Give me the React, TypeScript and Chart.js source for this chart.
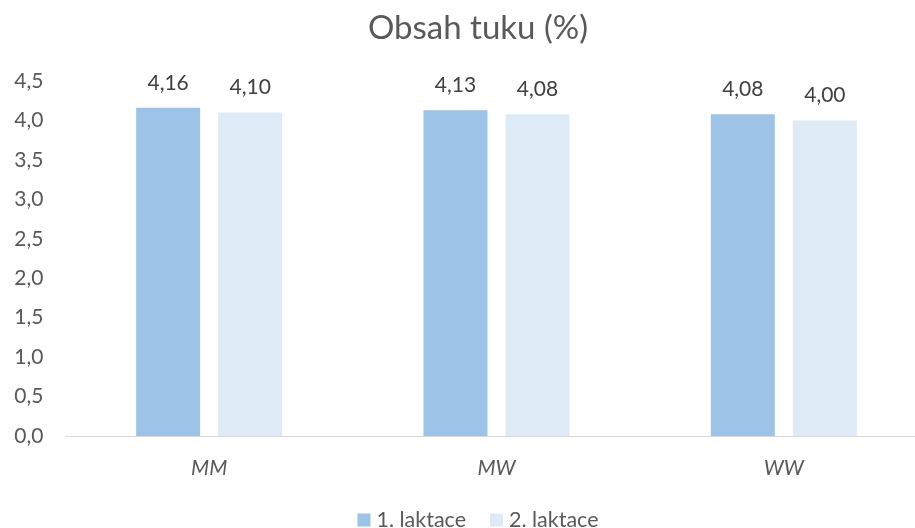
import React, { useEffect, useRef } from "react";
import { Chart, registerables } from "chart.js";

Chart.register(...registerables);

const categories = ["MM", "MW", "WW"];
const series1Label = "1. laktace";
const series2Label = "2. laktace";
const series1 = [4.16, 4.13, 4.08];
const series2 = [4.1, 4.08, 4.0];
const titleText = "Obsah tuku (%)";

const FONT = "Lato, 'Open Sans', sans-serif";
const TEXT = "#595959";

const fmt = (v: number, d: number) => v.toFixed(d).replace(".", ",");

const dataLabels = {
  id: "dataLabels",
  afterDatasetsDraw(chart: any) {
    const ctx = chart.ctx;
    ctx.save();
    ctx.font = `21px ${FONT}`;
    ctx.fillStyle = "#404040";
    ctx.textAlign = "center";
    ctx.textBaseline = "middle";
    chart.data.datasets.forEach((ds: any, i: number) => {
      const meta = chart.getDatasetMeta(i);
      meta.data.forEach((bar: any, j: number) => {
        ctx.fillText(fmt(ds.data[j], 2), bar.x, bar.y - 25);
      });
    });
    ctx.restore();
  },
};

const titleAndLegend = {
  id: "titleAndLegend",
  afterDraw(chart: any) {
    const ctx = chart.ctx;
    ctx.save();
    // title
    ctx.font = `33px ${FONT}`;
    ctx.fillStyle = TEXT;
    ctx.textAlign = "center";
    ctx.textBaseline = "middle";
    ctx.fillText(titleText, chart.width / 2, 28);
    // legend
    ctx.font = `21.5px ${FONT}`;
    ctx.textAlign = "left";
    const box = 13;
    const gap = 6;
    const itemGap = 24;
    const items = chart.data.datasets.map((ds: any) => ({
      label: ds.label,
      color: ds.backgroundColor,
      w: box + gap + ctx.measureText(ds.label).width,
    }));
    const total = items.reduce((a: number, it: any) => a + it.w, 0) + itemGap * (items.length - 1);
    let x = chart.width / 2 - total / 2;
    const y = 520;
    items.forEach((it: any) => {
      ctx.fillStyle = it.color;
      ctx.fillRect(x, y - box / 2, box, box);
      ctx.fillStyle = TEXT;
      ctx.fillText(it.label, x + box + gap, y);
      x += it.w + itemGap;
    });
    ctx.restore();
  },
};

export default function App() {
  const ref = useRef<HTMLCanvasElement>(null);
  useEffect(() => {
    document.body.style.margin = "0";
    const chart = new Chart(ref.current!, {
      type: "bar",
      data: {
        labels: categories,
        datasets: [
          { label: series1Label, data: series1, backgroundColor: "#9DC3E6", barPercentage: 0.78, categoryPercentage: 0.571 },
          { label: series2Label, data: series2, backgroundColor: "#DEEBF7", barPercentage: 0.78, categoryPercentage: 0.571 },
        ],
      },
      options: {
        animation: false,
        responsive: false,
        layout: { padding: { top: 81, bottom: 0, left: 0, right: 28.5 } },
        plugins: {
          title: { display: false },
          legend: { display: false },
          tooltip: { enabled: false },
        },
        scales: {
          x: {
            grid: { display: false, drawTicks: false },
            border: { color: "#D9D9D9", width: 1 },
            ticks: { color: TEXT, font: { family: FONT, size: 21, style: "italic" }, padding: 20 },
            afterFit: (s: any) => { s.height = 92; },
          },
          y: {
            min: 0,
            max: 4.5,
            grid: { display: false, drawTicks: false },
            border: { display: false },
            ticks: {
              stepSize: 0.5,
              color: TEXT,
              font: { family: FONT, size: 21 },
              padding: 22,
              callback: (v: any) => fmt(Number(v), 1),
            },
            afterFit: (s: any) => { s.width = 65.5; },
          },
        },
      },
      plugins: [dataLabels, titleAndLegend],
    });
    return () => chart.destroy();
  }, []);
  return (
    <div style={{ width: 915, height: 528, overflow: "hidden", background: "#fff" }}>
      <canvas ref={ref} width={956} height={528} style={{ display: "block" }} />
    </div>
  );
}
